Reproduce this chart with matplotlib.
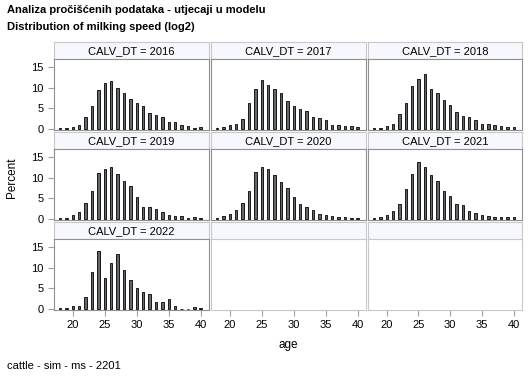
import matplotlib.pyplot as plt
import numpy as np

plt.rcParams['font.family'] = ['Liberation Sans', 'DejaVu Sans']

ages = list(range(18, 41))
years = [2016, 2017, 2018, 2019, 2020, 2021, 2022]

# percent of records per age, one list per calving year
pct_2016 = [0.2, 0.3, 0.5, 0.9, 3.0, 5.5, 9.5, 11.2, 11.6, 10.0, 8.8, 7.3, 6.2, 5.6,
            3.8, 3.3, 2.8, 1.6, 1.6, 1.0, 0.6, 0.3, 0.5]
pct_2017 = [0.15, 0.4, 0.9, 1.3, 2.5, 6.3, 9.7, 11.9, 10.5, 9.7, 8.7, 6.8, 5.6, 4.8,
            4.4, 2.9, 2.6, 2.1, 1.0, 1.0, 0.6, 0.6, 0.4]
pct_2018 = [0.2, 0.3, 0.6, 1.3, 3.5, 6.3, 10.3, 12.1, 13.3, 9.6, 8.6, 6.9, 5.9, 4.1,
            3.1, 2.8, 2.1, 1.3, 1.2, 0.9, 0.6, 0.4, 0.4]
pct_2019 = [0.2, 0.3, 0.9, 1.7, 3.9, 6.7, 11.0, 12.1, 12.5, 10.8, 9.2, 7.9, 5.4, 3.0,
            2.9, 2.3, 1.6, 0.9, 0.8, 0.6, 0.3, 0.4, 0.3]
pct_2020 = [0.2, 0.7, 1.2, 2.1, 3.9, 6.8, 11.3, 12.5, 12.1, 10.7, 9.0, 7.6, 5.2, 3.7,
            2.9, 2.2, 1.3, 1.0, 0.8, 0.5, 0.5, 0.2, 0.3]
pct_2021 = [0.2, 0.5, 1.0, 2.0, 3.6, 7.2, 10.9, 13.7, 12.6, 10.5, 9.1, 6.7, 5.5, 3.7,
            3.3, 1.9, 1.4, 0.9, 0.8, 0.5, 0.5, 0.4, 0.4]
pct_2022 = [0.2, 0.2, 0.8, 0.8, 2.9, 9.0, 14.1, 7.5, 11.2, 13.3, 9.5, 6.9, 5.0, 4.2,
            3.7, 1.7, 1.7, 2.4, 0.8, 0.0, 0.0, 0.5, 0.2]
all_pct = [pct_2016, pct_2017, pct_2018, pct_2019, pct_2020, pct_2021, pct_2022]

W, H = 529, 378
fig = plt.figure(figsize=(W / 100, H / 100), dpi=100)


def box(x0, y0, x1, y1):
    # pixel box (top-left origin) -> figure fraction rect
    return [x0 / W, 1 - y1 / H, (x1 - x0) / W, (y1 - y0) / H]


col_x = [(54, 209), (211, 366), (368, 522)]
row_y = [(42, 59, 130), (132, 149, 220), (222, 239, 310)]
tick_col = '#a0a0a0'

for r in range(3):
    for c in range(3):
        k = r * 3 + c
        x0, x1 = col_x[c]
        yh, yp, yb = row_y[r]
        has_data = k < len(years)

        hax = fig.add_axes(box(x0, yh, x1, yp))
        hax.set_facecolor('#f7f8fd')
        hax.set_xticks([])
        hax.set_yticks([])
        for s in hax.spines.values():
            s.set_color('#c8c8c8')
        if has_data:
            hax.text(0.5, 0.45, 'CALV_DT = %d' % years[k], ha='center', va='center',
                     fontsize=8, transform=hax.transAxes)

        ax = fig.add_axes(box(x0, yp, x1, yb))
        ax.set_xlim(17.05, 41.3)
        ax.set_ylim(-0.25, 16.9)
        frame = '#909090' if has_data else '#c8c8c8'
        for s in ax.spines.values():
            s.set_color(frame)
        if has_data:
            ax.bar(ages, all_pct[k], width=0.38, color='#63666c',
                   edgecolor='black', linewidth=0.6)
        ax.set_xticks([20, 25, 30, 35, 40])
        ax.set_yticks([0, 5, 10, 15])
        ax.tick_params(colors=tick_col, labelcolor='black', labelsize=8,
                       length=4, width=0.8)
        if r < 2 and not (r == 1 and c > 0 and False):
            ax.tick_params(axis='x', bottom=False, labelbottom=False)
        if c > 0:
            ax.tick_params(axis='y', left=False, labelleft=False)

fig.text(7 / W, 1 - 10 / H, 'Analiza pročišćenih podataka - utjecaji u modelu',
         fontsize=8, fontweight='bold', va='center')
fig.text(7 / W, 1 - 27 / H, 'Distribution of milking speed (log2)',
         fontsize=8, fontweight='bold', va='center')
fig.text(12 / W, 1 - 178 / H, 'Percent', rotation=90, fontsize=8.5,
         ha='center', va='center')
fig.text(288 / W, 1 - 345 / H, 'age', fontsize=8.5, ha='center', va='center')
fig.text(7 / W, 1 - 366 / H, 'cattle - sim - ms - 2201', fontsize=8, va='center')

fig.savefig('out.png', dpi=100)
